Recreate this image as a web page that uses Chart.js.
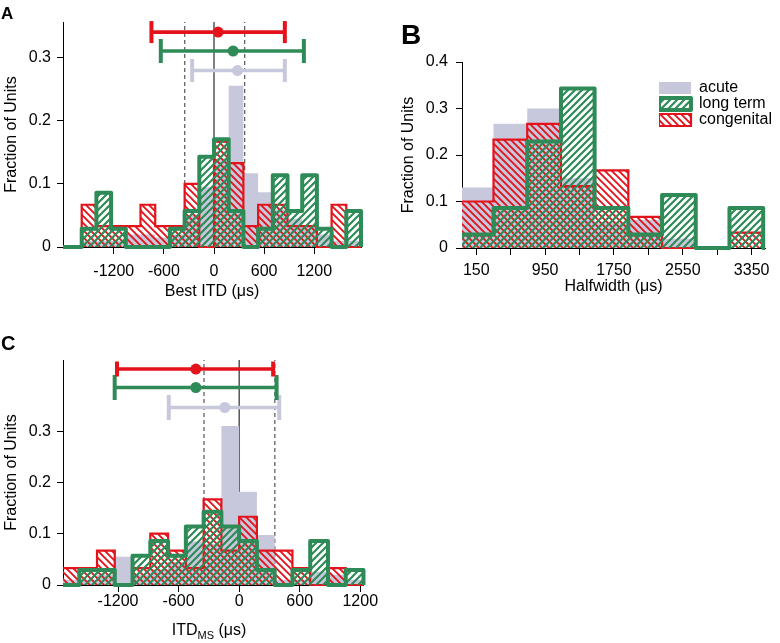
<!DOCTYPE html>
<html>
<head>
<meta charset="utf-8">
<script src="https://cdn.jsdelivr.net/npm/chart.js@4.4.1/dist/chart.umd.min.js"></script>
<style>
  html, body { margin:0; padding:0; background:#fff; }
  body { position:relative; width:780px; height:643px; overflow:hidden; font-family:"Liberation Sans", Arial, Helvetica, sans-serif; color:#000; }
  canvas { position:absolute; }
  .panel { position:absolute; font-weight:bold; line-height:1; }
  .xt { position:absolute; font-size:16px; line-height:1; white-space:nowrap; transform:translateX(-50%); }
  .xt sub { font-size:11px; vertical-align:-4px; line-height:0; }
</style>
</head>
<body>
<canvas id="chartA" width="380" height="310" style="left:0px;top:0px;"></canvas>
<canvas id="chartB" width="395" height="315" style="left:385px;top:0px;"></canvas>
<canvas id="chartC" width="380" height="323" style="left:0px;top:320px;"></canvas>
<div class="panel" style="left:1px;top:5px;font-size:17px;">A</div>
<div class="panel" style="left:401px;top:21px;font-size:28px;">B</div>
<div class="panel" style="left:1px;top:333px;font-size:20px;">C</div>
<div class="xt" style="left:209px;top:622px;">ITD<sub>MS</sub> (μs)</div>
<script>
const GREEN = '#2e8b57', RED = '#e3121b', LAV = '#c8c8dc';
Chart.defaults.font.family = '"Liberation Sans", Arial, Helvetica, sans-serif';
Chart.defaults.color = '#000';

const seriesNames = ['acute', 'long term', 'congenital'];
const errColors = [RED, GREEN, LAV];   // rows: congenital, long term, acute

// ---------- Panel A : Best ITD ----------
const binEdgesA = [-1584, -1408, -1232, -1056, -880, -704, -528, -352, -176, 0, 176, 352, 528, 704, 880, 1056, 1232, 1408, 1584, 1760];
const acuteA      = [0.01, 0.01, 0.01, 0.02, 0.02, 0.015, 0.02, 0.05, 0.095, 0.14, 0.256, 0.117, 0.087, 0.06, 0.045, 0.035, 0.02, 0.01, 0.01];
const longTermA   = [0.029, 0.086, 0.029, 0, 0, 0, 0.029, 0.057, 0.143, 0.171, 0.057, 0, 0.029, 0.114, 0.057, 0.114, 0.029, 0, 0.057];
const congenitalA = [0.067, 0.033, 0.033, 0.033, 0.067, 0.033, 0.033, 0.1, 0, 0.167, 0.133, 0.033, 0.067, 0.067, 0.033, 0.033, 0, 0.067, 0];
const xTicksA = [-1200, -600, 0, 600, 1200];
const xTickLabelsA = ['-1200', '-600', '0', '600', '1200'];
const yTicksA = [0, 0.1, 0.2, 0.3];
const yTickLabelsA = ['0', '0.1', '0.2', '0.3'];
const refLinesA = [-350, 0, 368];
const refDashedA = [true, false, true];
const errYA = [0.341, 0.311, 0.280];
const errLoA = [-749, -637, -262];
const errMeanA = [49, 229, 281];
const errHiA = [848, 1076, 848];

// ---------- Panel B : Halfwidth ----------
const binEdgesB = [-41, 350, 742, 1134, 1525, 1917, 2309, 2700, 3092, 3484];
const acuteB      = [0.13, 0.267, 0.3, 0.15, 0.055, 0.06, 0.02, 0, 0];
const longTermB   = [0.029, 0.086, 0.229, 0.343, 0.086, 0.029, 0.114, 0, 0.086];
const congenitalB = [0.1, 0.233, 0.267, 0.133, 0.167, 0.067, 0, 0, 0.033];
const xTicksB = [150, 550, 950, 1350, 1750, 2150, 2550, 2950, 3350];
const xTickLabelsB = ['150', '', '950', '', '1750', '', '2550', '', '3350'];
const yTicksB = [0, 0.1, 0.2, 0.3, 0.4];
const yTickLabelsB = ['0', '0.1', '0.2', '0.3', '0.4'];

// ---------- Panel C : ITD_MS ----------
const binEdgesC = [-1760, -1584, -1408, -1232, -1056, -880, -704, -528, -352, -176, 0, 176, 352, 528, 704, 880, 1056, 1232];
const acuteC      = [0.01, 0.01, 0.02, 0.055, 0.02, 0.03, 0.045, 0.085, 0.08, 0.31, 0.182, 0.0975, 0.01, 0.01, 0.026, 0.02, 0.01];
const longTermC   = [0, 0.029, 0.029, 0, 0.057, 0.086, 0.057, 0.114, 0.143, 0.114, 0.086, 0.029, 0, 0.029, 0.086, 0, 0.029];
const congenitalC = [0.033, 0.033, 0.067, 0, 0.033, 0.1, 0.067, 0.033, 0.167, 0.067, 0.133, 0.067, 0.067, 0.033, 0, 0.033, 0];
const xTicksC = [-1200, -600, 0, 600, 1200];
const xTickLabelsC = ['-1200', '-600', '0', '600', '1200'];
const yTicksC = [0, 0.1, 0.2, 0.3];
const yTickLabelsC = ['0', '0.1', '0.2', '0.3'];
const refLinesC = [-348, 0, 354];
const refDashedC = [true, false, true];
const errYC = [0.421, 0.385, 0.346];
const errLoC = [-1210, -1233, -697];
const errMeanC = [-429, -429, -142];
const errHiC = [337, 371, 397];

// ---------- helpers ----------
function hatch(color, dir, size, lw) {
  const c = document.createElement('canvas');
  c.width = size; c.height = size;
  const g = c.getContext('2d');
  g.strokeStyle = color; g.lineWidth = lw;
  g.beginPath();
  if (dir === '/') {
    g.moveTo(0, size); g.lineTo(size, 0);
    g.moveTo(-size / 2, size / 2); g.lineTo(size / 2, -size / 2);
    g.moveTo(size / 2, size * 1.5); g.lineTo(size * 1.5, size / 2);
  } else {
    g.moveTo(0, 0); g.lineTo(size, size);
    g.moveTo(-size / 2, size / 2); g.lineTo(size / 2, size * 1.5);
    g.moveTo(size / 2, -size / 2); g.lineTo(size * 1.5, size / 2);
  }
  g.stroke();
  return g.createPattern(c, 'repeat');
}
const greenHatch = hatch(GREEN, '/', 7, 2.2);
const redHatch = hatch(RED, '\\', 7, 1.9);

function stepPoints(edges, vals, xmin, xmax) {
  const pts = [];
  const last = edges[edges.length - 1];
  if (xmin < edges[0]) pts.push({x: xmin, y: 0});
  pts.push({x: edges[0], y: 0});
  vals.forEach((v, i) => pts.push({x: edges[i], y: v}));
  pts.push({x: last, y: 0});
  if (xmax > last) pts.push({x: xmax, y: 0});
  return pts;
}

function histDatasets(edges, acute, longTerm, congenital, xmin, xmax) {
  const clip = {left: 0, top: 6, right: 3, bottom: 3};
  return [
    { label: seriesNames[0], data: stepPoints(edges, acute, xmin, xmax), backgroundColor: LAV, borderColor: 'rgba(0,0,0,0)', borderWidth: 0, order: 5 },
    { label: seriesNames[1], data: stepPoints(edges, longTerm, xmin, xmax), backgroundColor: greenHatch, borderColor: GREEN, borderWidth: 4, borderJoinStyle: 'round', order: 3 },
    { label: seriesNames[2], data: stepPoints(edges, congenital, xmin, xmax), backgroundColor: redHatch, borderColor: RED, borderWidth: 2.2, order: 4 }
  ].map(d => Object.assign({ type: 'line', stepped: 'before', fill: 'origin', pointRadius: 0, tension: 0, clip }, d));
}

function refDatasets(xs, dashed, ymax) {
  return xs.map((x, i) => ({
    type: 'line', data: [{x, y: 0}, {x, y: ymax}],
    borderColor: dashed[i] ? '#333' : '#000', borderWidth: 1,
    borderDash: dashed[i] ? [4, 3] : [], pointRadius: 0, fill: false, order: 10
  }));
}

function errDatasets(ys, lo, mean, hi, capR) {
  return ys.map((y, i) => ({
    type: 'line', data: [{x: lo[i], y}, {x: mean[i], y}, {x: hi[i], y}],
    borderColor: errColors[i], borderWidth: 3.6, fill: false,
    pointStyle: ['line', 'circle', 'line'], pointRotation: [90, 0, 90],
    pointRadius: [capR[i], 5.5, capR[i]], pointBorderWidth: [4, 0, 4],
    pointBackgroundColor: errColors[i], pointBorderColor: errColors[i],
    order: 0, clip: false
  }));
}

function makeScales(p) {
  return {
    x: {
      type: 'linear', bounds: 'data', min: p.xmin, max: p.xmax,
      afterBuildTicks: s => { s.ticks = p.xTicks.map(v => ({value: v})); },
      afterFit: s => { s.height = p.xH; },
      ticks: { autoSkip: false, maxRotation: 0, minRotation: 0, padding: p.xPad, font: {size: p.xFont}, color: '#000', callback: (v, i) => p.xLabels[i] },
      grid: { display: true, drawOnChartArea: false, drawTicks: true, tickLength: 7, color: '#000', tickColor: '#000', tickWidth: 1 },
      border: { display: true, color: '#000', width: 1 },
      title: { display: !!p.xTitle, text: p.xTitle || '', font: {size: 16}, color: '#000', padding: {top: 0, bottom: p.xTitlePad || 0} }
    },
    y: {
      type: 'linear', bounds: 'data', min: 0, max: p.ymax,
      afterBuildTicks: s => { s.ticks = p.yTicks.map(v => ({value: v})); },
      afterFit: s => { s.width = p.yW; },
      ticks: { autoSkip: false, padding: p.yPad, font: {size: 16}, color: '#000', callback: (v, i) => p.yLabels[i] },
      grid: { display: true, drawOnChartArea: false, drawTicks: true, tickLength: 6, color: '#000', tickColor: '#000', tickWidth: 1 },
      border: { display: true, color: '#000', width: 1 },
      title: { display: true, text: 'Fraction of Units', font: {size: 16}, color: '#000', padding: {top: p.yTitlePad, bottom: 0} }
    }
  };
}

const legendPlacer = {
  id: 'legendPlacer',
  afterLayout(chart, args, opts) {
    const lg = chart.legend;
    if (!lg || opts.left === undefined) return;
    const w = lg.width;
    lg.left = opts.left; lg.top = opts.top; lg.right = opts.left + w;
  }
};

const baseOpts = { responsive: false, animation: false, devicePixelRatio: 1, events: [] };

// ---------- Chart A ----------
const A = { xmin: -1808, xmax: 1760, ymax: 0.357 };
new Chart(document.getElementById('chartA'), {
  type: 'line',
  data: { datasets: [
    ...histDatasets(binEdgesA, acuteA, longTermA, congenitalA, A.xmin, A.xmax),
    ...refDatasets(refLinesA, refDashedA, A.ymax),
    ...errDatasets(errYA, errLoA, errMeanA, errHiA, [11, 12, 11.5])
  ] },
  options: Object.assign({}, baseOpts, {
    layout: { padding: {left: 0, top: 22, right: 19, bottom: 0} },
    scales: makeScales({ xmin: A.xmin, xmax: A.xmax, ymax: A.ymax, xTicks: xTicksA, xLabels: xTickLabelsA, yTicks: yTicksA, yLabels: yTickLabelsA,
      xH: 63, xPad: 8, xFont: 16, xTitle: 'Best ITD (μs)', xTitlePad: 8.7, yW: 63, yPad: 6, yTitlePad: 2 }),
    plugins: { legend: {display: false}, tooltip: {enabled: false} }
  })
});

// ---------- Chart B ----------
const B = { xmin: -16, xmax: 3505, ymax: 0.4 };
new Chart(document.getElementById('chartB'), {
  type: 'line',
  data: { datasets: [
    ...histDatasets(binEdgesB, acuteB, longTermB, congenitalB, B.xmin, B.xmax)
  ] },
  options: Object.assign({}, baseOpts, {
    layout: { padding: {left: 0, top: 62, right: 15, bottom: 0} },
    scales: makeScales({ xmin: B.xmin, xmax: B.xmax, ymax: B.ymax, xTicks: xTicksB, xLabels: xTickLabelsB, yTicks: yTicksB, yLabels: yTickLabelsB,
      xH: 67, xPad: 6, xFont: 16, xTitle: 'Halfwidth (μs)', xTitlePad: 18.7, yW: 77, yPad: 8, yTitlePad: 13.7 }),
    plugins: {
      legend: { display: true, position: 'chartArea', align: 'start',
        labels: { boxWidth: 32, boxHeight: 12, padding: 0, font: {size: 16}, color: '#000',
          filter: item => seriesNames.includes(item.text),
          sort: (a, b) => a.datasetIndex - b.datasetIndex } },
      legendPlacer: { left: 274, top: 80 },
      tooltip: {enabled: false}
    }
  }),
  plugins: [legendPlacer]
});

// ---------- Chart C ----------
const C = { xmin: -1745, xmax: 1232, ymax: 0.4386 };
new Chart(document.getElementById('chartC'), {
  type: 'line',
  data: { datasets: [
    ...histDatasets(binEdgesC, acuteC, longTermC, congenitalC, C.xmin, C.xmax),
    ...refDatasets(refLinesC, refDashedC, C.ymax),
    ...errDatasets(errYC, errLoC, errMeanC, errHiC, [7.5, 12.5, 12.5])
  ] },
  options: Object.assign({}, baseOpts, {
    layout: { padding: {left: 0, top: 40, right: 16.5, bottom: 0} },
    scales: makeScales({ xmin: C.xmin, xmax: C.xmax, ymax: C.ymax, xTicks: xTicksC, xLabels: xTickLabelsC, yTicks: yTicksC, yLabels: yTickLabelsC,
      xH: 58, xPad: 0, xFont: 16, xTitle: '', yW: 63, yPad: 6, yTitlePad: 2 }),
    plugins: { legend: {display: false}, tooltip: {enabled: false} }
  })
});
</script>
</body>
</html>
